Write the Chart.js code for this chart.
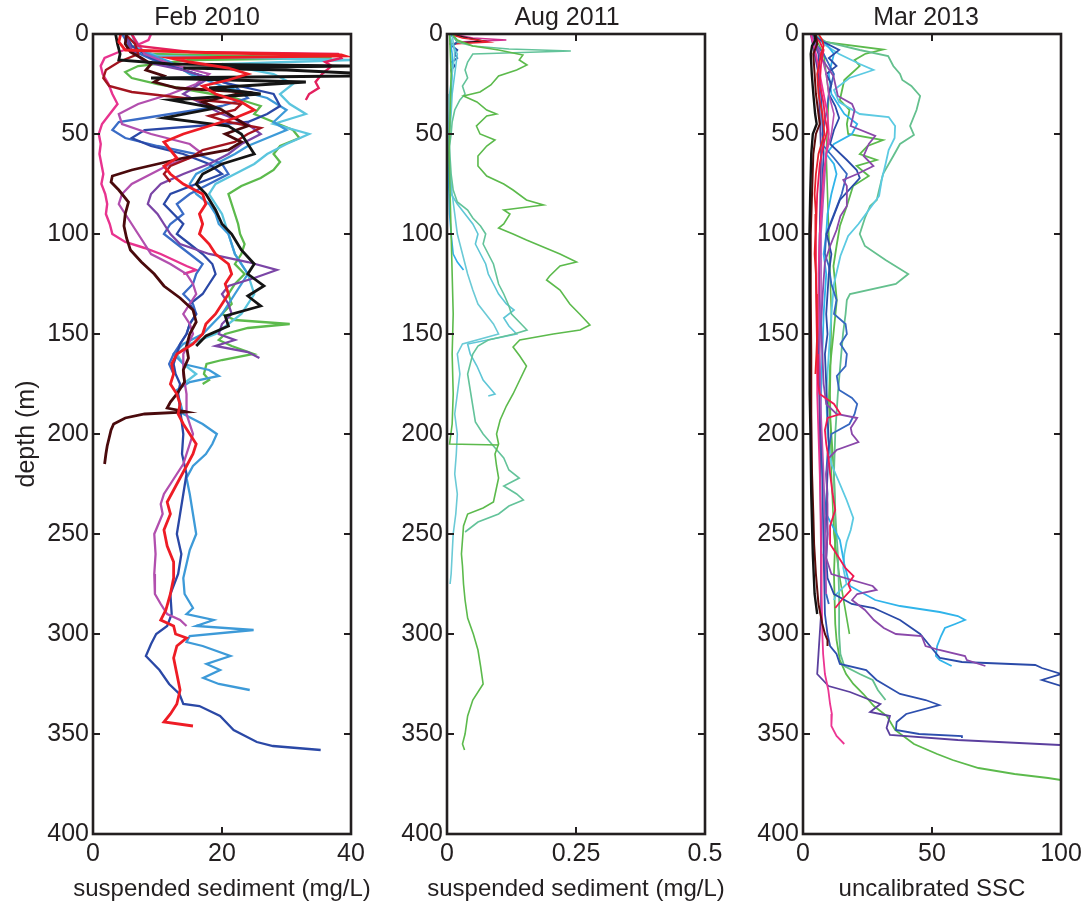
<!DOCTYPE html>
<html>
<head>
<meta charset="utf-8">
<script src="https://cdn.jsdelivr.net/npm/chart.js@4.4.1/dist/chart.umd.min.js"></script>
<style>
  body { margin: 0; background: #fff; }
  #wrap { position: relative; width: 1088px; height: 907px; overflow: hidden; }
  canvas { position: absolute; top: 0; }
</style>
</head>
<body>
<div id="wrap">
  <canvas id="feb" width="400" height="907" style="left:0px"></canvas>
  <canvas id="aug" width="380" height="907" style="left:360px"></canvas>
  <canvas id="mar" width="363" height="907" style="left:725px"></canvas>
</div>
<script>
// panel titles, axis labels, ticks
const panelTitles = ['Feb 2010', 'Aug 2011', 'Mar 2013'];
const xTitles = ['suspended sediment (mg/L)', 'suspended sediment (mg/L)', 'uncalibrated SSC'];
const yTitle = 'depth (m)';
const depthTicks = [0, 50, 100, 150, 200, 250, 300, 350, 400];
const febTicks = [0, 20, 40];
const augTicks = [0, 0.25, 0.5];
const marTicks = [0, 50, 100];

// ---- Feb 2010 profiles (depth m, sediment mg/L) ----
const febRedDepth = [0, 4, 8, 9.5, 10.5, 11, 12, 14, 17, 20, 23, 26, 30, 34, 38, 42, 46, 50, 54, 58, 62, 66, 70, 75, 80, 85, 90, 95, 100, 105, 110, 115, 120, 125, 130, 135, 140, 145, 150, 155, 160, 165, 170, 175, 180, 185, 190, 195, 200, 205, 210, 216, 222, 228, 234, 240, 248, 256, 264, 272, 280, 288, 293, 296, 300, 302, 306, 312, 320, 328, 335, 340, 344, 346];
const febRedSsc = [4.3, 4, 5, 20, 38.5, 39, 12, 15, 21, 24, 21, 17, 19, 23, 25, 22, 18, 14, 11, 12, 13, 11, 12, 14, 17, 17.5, 16.5, 17, 16.5, 18, 19, 21, 21.5, 20.5, 21, 20, 19, 17.5, 17, 15.5, 13, 12.2, 12.5, 12, 13, 13.5, 13.2, 14, 15, 16, 15.5, 14.5, 13.5, 12.5, 11.5, 12, 11, 11.5, 12.5, 12.5, 12, 11.3, 10.5, 12.5, 12.8, 14.5, 13, 12.5, 13, 13.5, 13, 12, 11, 15.5];

const febBlackDepth = [0, 5, 10, 13, 15, 16, 17, 18, 19.5, 21, 22, 24, 27, 30, 33, 37, 42, 46, 50, 55, 60, 65, 70, 75, 80, 88, 95, 100, 108, 115, 120, 126, 131, 136, 141, 146, 151, 156];
const febBlackSsc = [3.5, 3.8, 4.2, 4.0, 12, 40, 14, 30, 40, 40, 9, 33, 18, 26, 12, 19, 11, 21, 23, 24, 25, 20, 17, 16, 17.5, 19, 20, 21.5, 23, 25, 24, 26.5, 24, 26, 20.5, 21, 17.5, 16];

const febMaroonDepth = [0, 5, 9, 12, 15, 18, 21, 24, 27, 29, 31, 34, 38, 42, 46, 50, 54, 58, 62, 65, 68, 71, 74, 78, 84, 90, 96, 102, 108, 114, 120, 126, 132, 138, 144, 150, 156, 162, 168, 174, 180, 184, 187, 189, 190, 192, 195, 198, 202, 206, 210, 215];
const febMaroonSsc = [5.2, 5.0, 5.8, 7.5, 9.0, 8.2, 11.0, 9.5, 13.0, 23.5, 21.0, 17.0, 20.0, 22.0, 24.0, 20.5, 23.0, 21.0, 14.0, 10.0, 6.0, 3.0, 2.8, 4.0, 5.5, 5.0, 4.8, 5.2, 5.8, 7.5, 9.5, 11.0, 13.5, 15.5, 16.0, 15.0, 14.5, 14.8, 14.0, 14.2, 13.0, 12.0, 11.5, 14.5, 8.0, 5.0, 3.2, 2.8, 2.5, 2.2, 2.0, 1.8];

const febDarkRedDepth = [0, 5, 10, 14, 18, 22, 26, 29, 32, 35, 38, 41, 44, 47, 50, 54, 58, 62, 66, 70, 74];
const febDarkRedSsc = [5, 6.5, 7, 4, 2, 1.6, 2.5, 6, 14, 23, 22, 18, 21, 26, 24, 22, 17, 15, 12, 11, 12];

const febRoseDepth = [0, 6, 9, 10, 12, 14, 16, 20, 24, 27, 30, 33];
const febRoseSsc = [6, 7, 15, 38, 38.5, 36, 37, 35.5, 34.5, 35, 33.5, 33];

const febPurpleDepth = [0, 8, 14, 18, 22, 26, 30, 35, 40, 45, 50, 55, 60, 65, 70, 75, 80, 85, 90, 95, 100, 105, 110, 114, 118, 122, 126, 130, 135, 140, 145, 150, 153, 156, 159, 162];
const febPurpleSsc = [5, 6, 8, 14, 18, 16, 14, 17, 20, 24, 26, 23, 21, 18, 14, 10.5, 9, 8.5, 10, 11, 12, 13.5, 18, 24, 28.5, 25, 21, 20, 21, 21.5, 20, 19.5, 22, 19, 24, 25.8];

const febOrchidDepth = [0, 5, 10, 15, 20, 25, 30, 35, 40, 45, 50, 55, 60, 65, 70, 75, 80, 85, 90, 95, 100, 105, 110, 115, 120, 125, 130, 135, 140, 145, 150, 160, 170, 180, 190, 200, 205, 210, 215, 220, 225, 230, 235, 240, 250, 260, 270, 280, 285, 290, 293, 296];
const febOrchidSsc = [6, 7, 8, 12, 18, 16, 12, 7, 4, 4.5, 9, 15, 17, 12, 9, 6, 4.5, 4, 5, 6, 7, 8, 9, 12, 14.5, 15.5, 16, 15, 14, 15, 15.5, 14, 14, 14.5, 14.5, 15.5, 15, 14.5, 14, 13, 12, 11, 10.5, 10.8, 9.5, 9.7, 9.5, 9.6, 10.5, 11.5, 13.5, 14.5];

const febDarkBlueDepth = [0, 6, 12, 18, 24, 30, 36, 40, 44, 48, 52, 56, 60, 65, 70, 75, 80, 85, 90, 95, 100, 105, 110, 115, 120, 125, 130, 135, 140, 145, 150, 155, 160, 165, 170, 175, 180, 190, 200, 210, 220, 230, 240, 250, 260, 270, 280, 290, 296, 300, 305, 311, 318, 325, 330, 335, 336, 341, 348, 354, 356, 358];
const febDarkBlueSsc = [5, 6, 9, 14, 20, 28, 29, 27, 24, 8, 6, 9, 14, 18, 20, 16, 12, 11, 12.5, 14, 13, 15, 17, 18.5, 19, 18, 17, 15, 16, 15, 14.5, 13.5, 13, 12.5, 12.8, 13.5, 13.2, 13.6, 14, 13.8, 14.5, 14, 13.5, 13, 13.7, 13.2, 12, 12.2, 11.5, 9.8, 9, 8.2, 10.3, 11.8, 13.4, 14, 16.5, 19.7, 21.8, 25.4, 27.9, 35.3];

const febBlueDepth = [0, 8, 14, 20, 26, 32, 36, 40, 44, 48, 52, 56, 60, 65, 70, 75, 80, 85, 90, 95, 100, 105, 110, 115, 120, 125, 130, 135, 140, 145, 150, 155, 160, 165, 170];
const febBlueSsc = [4.5, 6, 10, 16, 22, 24, 20, 12, 4, 3, 5, 10, 16, 20, 21, 18, 15, 13, 14, 12, 11, 13, 15, 17, 16, 15.5, 14, 15.5, 16, 15, 14.5, 13.5, 12.5, 11.8, 12.5];

const febLightBlueDepth = [0, 8, 14, 20, 26, 32, 38, 44, 48, 52, 56, 60, 65, 70, 75, 80, 85, 90, 95, 100, 110, 120, 130, 140, 150, 155, 160, 165, 168, 171, 174, 178, 184, 190, 195, 200, 205, 210, 216, 222, 230, 240, 250, 258, 265, 272, 280, 287, 290, 293, 296, 298, 301, 304, 306, 311, 315, 318, 322, 325, 328];
const febLightBlueSsc = [6, 7, 12, 15, 20, 27, 30, 28, 30, 27, 24, 22, 19, 16, 15, 16, 18, 19, 19.5, 21, 22, 24, 22, 20, 17, 14, 12.5, 14, 18, 19.5, 15, 13, 13.5, 14, 17, 19.2, 18.5, 17.5, 15.5, 14.5, 15, 15.5, 16, 15, 14.5, 14, 14.2, 15.5, 14.5, 18.7, 16, 24.9, 15, 14.5, 17, 21.3, 17.6, 19.7, 17.1, 19.5, 24.3];

const febCyanDepth = [0, 6, 11, 13, 15, 20, 25, 30, 35, 40, 45, 50, 55, 60, 65, 70, 75, 80, 90, 100, 110, 120, 130, 140, 150, 155, 160, 165, 170, 175];
const febCyanSsc = [5, 6, 10, 40, 20, 28, 31, 29, 30.5, 33, 28, 33.5, 30, 27, 25, 22, 19, 18, 20, 21, 22, 24, 25, 23, 19, 15, 13, 14, 16, 14];

const febGreenDepth = [0, 6, 10, 12, 13, 16, 19, 22, 25, 28, 32, 36, 40, 44, 48, 52, 56, 60, 64, 68, 72, 76, 80, 85, 90, 95, 100, 105, 110, 115, 120, 125, 130, 135, 140, 143, 145, 147, 150, 153, 156, 160, 163, 165, 170, 173, 175];
const febGreenSsc = [5, 6, 9, 37, 15, 7, 5, 6, 10, 15, 22, 26, 25, 28, 31, 32, 29, 28, 29, 28, 26, 23, 21, 21.5, 22, 22.5, 22.8, 23.5, 23, 22, 23.5, 22, 21, 21.5, 20, 22, 30.5, 24, 20.5, 19.5, 21.5, 24.9, 20, 17.6, 17.2, 18, 17];

const febPinkDepth = [0, 3, 6, 9, 12, 16, 20, 25, 30, 35, 40, 45, 50, 55, 60, 65, 70, 75, 80, 85, 90, 95, 100, 104, 107, 110, 113, 116, 118, 120];
const febPinkSsc = [9.0, 8.6, 6.5, 4.0, 1.8, 1.2, 1.5, 2.4, 3.0, 3.8, 2.6, 1.4, 0.9, 1.2, 1.0, 1.3, 1.6, 1.3, 1.9, 2.2, 2.0, 2.6, 3.0, 5.0, 8.0, 10.5, 12.5, 14.5, 16.0, 14.0];

// ---- Aug 2011 profiles ----
const augGreenDepth = [0, 3, 6, 8, 10.5, 13, 15.5, 18, 21, 25.5, 29, 31, 34, 38, 40, 41, 46, 50, 53, 56, 61, 66, 71, 75, 78, 83, 85.5, 88, 90, 95, 97, 100, 103, 110, 114, 116, 121, 123, 128, 135, 140, 145.5, 148, 150, 153, 156.5, 161, 166, 173, 180, 186, 193, 200, 205, 210, 216, 222, 228, 234, 237, 240, 246, 253, 260, 266, 275, 283, 292, 300, 308, 316, 325, 333, 341, 350, 355, 358];
const augGreenSsc = [0.01, 0.02, 0.05, 0.10, 0.147, 0.14, 0.155, 0.135, 0.10, 0.085, 0.064, 0.032, 0.058, 0.077, 0.096, 0.077, 0.057, 0.064, 0.093, 0.077, 0.06, 0.06, 0.077, 0.11, 0.128, 0.154, 0.187, 0.11, 0.122, 0.11, 0.10, 0.128, 0.154, 0.219, 0.251, 0.219, 0.199, 0.193, 0.219, 0.238, 0.257, 0.277, 0.258, 0.206, 0.141, 0.128, 0.141, 0.154, 0.141, 0.128, 0.115, 0.103, 0.096, 0.10, 0.093, 0.096, 0.10, 0.095, 0.09, 0.07, 0.04, 0.032, 0.03, 0.028, 0.03, 0.032, 0.035, 0.04, 0.051, 0.06, 0.065, 0.07, 0.05, 0.04, 0.035, 0.03, 0.034];

const augGreen2Depth = [0, 20, 40, 60, 80, 100, 120, 140, 160, 180, 195, 205, 205.5];
const augGreen2Ssc = [0.005, 0.008, 0.006, 0.004, 0.006, 0.008, 0.01, 0.012, 0.01, 0.012, 0.01, 0.005, 0.10];

const augTealDepth = [0, 4, 6, 7.5, 8.5, 10, 14, 18, 22, 26, 30, 33, 38, 44, 50, 56, 62, 70, 78, 84, 88, 92, 96, 100, 105, 110, 115, 120, 125, 130, 136, 140, 144, 148, 150, 153, 156, 160, 165, 170, 178, 186, 194, 200, 206, 212, 218, 222, 226, 230, 233, 236, 240, 244, 249];
const augTealSsc = [0.01, 0.02, 0.05, 0.12, 0.24, 0.05, 0.04, 0.035, 0.04, 0.03, 0.035, 0.025, 0.015, 0.01, 0.008, 0.005, 0.006, 0.008, 0.012, 0.02, 0.04, 0.05, 0.065, 0.075, 0.07, 0.08, 0.09, 0.095, 0.1, 0.11, 0.12, 0.125, 0.14, 0.155, 0.13, 0.08, 0.06, 0.05, 0.045, 0.04, 0.045, 0.05, 0.055, 0.07, 0.09, 0.11, 0.12, 0.14, 0.11, 0.135, 0.148, 0.12, 0.10, 0.06, 0.035];

const augCyanDepth = [0, 5, 10, 20, 30, 40, 50, 60, 70, 80, 85, 90, 95, 100, 105, 110, 115, 120, 125, 130, 135, 138, 142, 146, 150, 155, 160, 166, 173, 180, 181];
const augCyanSsc = [0.005, 0.01, 0.02, 0.015, 0.01, 0.008, 0.005, 0.004, 0.006, 0.008, 0.02, 0.035, 0.05, 0.06, 0.055, 0.065, 0.075, 0.08, 0.09, 0.1, 0.115, 0.13, 0.11, 0.12, 0.135, 0.04, 0.045, 0.058, 0.07, 0.093, 0.08];

const augCyan2Depth = [0, 10, 20, 30, 40, 50, 60, 70, 80, 90, 100, 110, 120, 128, 135, 140, 145, 150, 155, 160, 170, 180, 190, 200, 210, 220, 230, 240, 250, 260, 270, 275];
const augCyan2Ssc = [0.01, 0.015, 0.01, 0.005, 0.004, 0.003, 0.004, 0.006, 0.01, 0.015, 0.02, 0.03, 0.04, 0.05, 0.06, 0.075, 0.09, 0.1, 0.03, 0.02, 0.025, 0.02, 0.015, 0.02, 0.018, 0.015, 0.02, 0.017, 0.012, 0.01, 0.008, 0.006];

const augSkyDepth = [0, 10, 20, 30, 40, 50, 60, 70, 80, 90, 100, 105, 110, 114, 118];
const augSkySsc = [0.005, 0.01, 0.01, 0.008, 0.005, 0.003, 0.002, 0.003, 0.004, 0.005, 0.008, 0.01, 0.012, 0.02, 0.032];

const augDarkBlueDepth = [0, 2, 4, 6, 8, 10, 12, 14, 16, 18, 20];
const augDarkBlueSsc = [0.005, 0.015, 0.02, 0.01, 0.02, 0.015, 0.02, 0.01, 0.015, 0.008, 0.01];
const augRedDepth = [0, 2, 3, 4, 5];
const augRedSsc = [0.005, 0.03, 0.06, 0.08, 0.01];
const augBlackDepth = [0, 2, 3.5, 5];
const augBlackSsc = [0.005, 0.04, 0.07, 0.005];
const augMagentaDepth = [0, 2, 3, 4];
const augMagentaSsc = [0.01, 0.05, 0.115, 0.02];

// ---- Mar 2013 profiles (uncalibrated) ----
const marBlackDepth = [0, 3, 6, 10, 20, 30, 40, 45, 50, 60, 80, 100, 120, 150, 180, 200, 230, 260, 280, 290];
const marBlackSsc = [4.5, 4.8, 3.5, 3.0, 3.4, 4.0, 4.7, 5.3, 3.8, 3.2, 2.8, 2.5, 2.5, 2.6, 2.7, 2.9, 3.2, 3.8, 4.5, 5.5];

const marMaroonDepth = [0, 5, 10, 20, 30, 40, 45, 50, 60, 80, 100, 130, 160, 190, 220, 240, 255, 270, 285, 295, 300, 303, 306];
const marMaroonSsc = [5, 5.5, 4, 4.5, 5, 6, 6.5, 5, 4, 3.5, 3, 3, 3.2, 3.2, 3.5, 4.0, 4.3, 5, 6, 7.5, 8.5, 9.5, 9.5];

const marRedDepth = [0, 3, 6, 10, 20, 30, 40, 50, 60, 70, 80, 90, 100, 110, 120, 130, 140, 150, 160, 170];
const marRedSsc = [6, 7.5, 8, 7, 5.5, 6, 7.5, 8.3, 6, 5, 4.5, 5, 4.8, 4.5, 5, 5.2, 5.4, 5.5, 5.2, 4.8];

const marRoseDepth = [0, 4, 8, 15, 25, 35, 42, 48, 55, 65, 80, 100, 120, 140, 160, 175, 180, 185, 190, 192, 198, 205, 213, 220, 230, 238, 246, 255, 262, 267, 271, 275, 278, 283, 287];
const marRoseSsc = [4, 6.5, 8, 7, 6.5, 8, 8.5, 9.5, 8, 6.5, 5.5, 5, 5, 5.2, 5.5, 5.8, 6.5, 12, 14.5, 9.5, 8.5, 9, 10, 10.5, 11.5, 12.5, 10.5, 10.5, 14, 16.4, 19.6, 17.5, 18.5, 15, 12.5];

const marPinkDepth = [0, 5, 10, 20, 30, 40, 50, 60, 70, 80, 90, 100, 120, 140, 160, 180, 200, 220, 240, 260, 280, 300, 310, 320, 328, 335, 340, 346, 351, 355];
const marPinkSsc = [3, 4, 5, 6.5, 8, 9.5, 10, 9, 8, 7.5, 7, 6.5, 6, 6, 5.5, 5.5, 6, 6.5, 6.8, 7, 7.2, 7.5, 7.8, 8.5, 9.8, 10.5, 11.2, 11, 13, 16];

const marPurpleDepth = [0, 5, 11, 21, 28, 31, 35, 38, 46, 51, 55, 61, 66, 70, 73, 76, 86, 91, 98, 106, 114, 123, 133, 145, 160, 175, 185, 190, 192, 197, 200, 204, 208, 212, 220, 235, 250, 262, 270, 276, 278, 280, 283, 288, 293, 297, 300, 301, 306, 308, 311, 313, 316];
const marPurpleSsc = [3, 5, 6.6, 11.8, 13, 13.5, 19, 20, 18.5, 28, 25.5, 23.5, 27.3, 21, 15.6, 17, 17, 14.5, 13, 10.5, 8.5, 8, 7.5, 7, 7.5, 8, 9, 13, 21, 18.5, 19, 21.5, 13, 10, 9, 9.5, 9.5, 9, 11, 27, 28.5, 21, 19, 24, 27.5, 31.3, 36, 46, 47.5, 52.8, 62.8, 63.5, 70.7];

const marOrchidDepth = [0, 10, 20, 30, 40, 50, 60, 80, 100, 130, 160, 190, 220, 250, 280];
const marOrchidSsc = [3, 7, 9, 10, 12, 11, 9, 8, 7, 7, 6.5, 7, 8, 8.5, 9];

const marIndigoDepth = [0, 20, 60, 100, 150, 200, 250, 290, 310, 320, 326, 329, 335, 339, 341, 347, 350.5, 353, 355.5];
const marIndigoSsc = [3, 6, 7, 6.5, 6, 6.5, 7, 7, 6, 5.5, 9.9, 18.2, 30, 26, 33.7, 32.4, 33.7, 60, 99.6];

const marDarkBlueDepth = [0, 4, 8, 12, 16, 20, 25, 30, 36, 42, 48, 55, 63, 68, 72, 83, 100, 110, 120, 130, 140, 150, 160, 175, 190, 205, 220, 235, 250, 262, 272, 280, 285, 287, 293, 300, 308, 312, 314, 315.5, 317, 320, 323, 326];
const marDarkBlueSsc = [3, 8, 14, 10, 13, 9, 11, 10, 12.5, 14, 12, 10.5, 17, 20.8, 22, 14.3, 9.2, 11, 10, 9.5, 9, 9.5, 8.5, 9, 9.5, 10, 9.5, 9, 9.5, 9, 9.5, 12, 18.9, 27.4, 37.6, 45.4, 50.5, 53.1, 61.6, 90, 92.6, 100, 92.6, 100];

const marDarkBlue2Depth = [0, 10, 30, 60, 100, 140, 180, 220, 260, 290, 300, 306, 310, 315, 318, 323, 330, 333, 335.5, 340, 344, 348, 350, 351, 352];
const marDarkBlue2Ssc = [3, 6, 7, 8, 6.5, 6, 6.5, 7.5, 8, 8.5, 9.5, 10.5, 13, 14.3, 24.5, 28.5, 37.6, 47.5, 52.8, 40, 36.3, 36, 45, 61.6, 61.6];

const marBlueDepth = [0, 5, 10, 20, 30, 40, 50, 56, 62, 70, 80, 90, 100, 110, 116, 125, 133, 140, 145, 150, 155, 160, 166, 171, 178, 182, 185, 190, 195, 200, 210, 220, 230, 240, 250, 260, 270, 280, 285];
const marBlueSsc = [3, 5, 8, 12, 10, 9, 7.5, 8, 12, 17, 15, 12, 9, 8.5, 10, 11, 13, 12, 16.5, 17, 14.5, 17, 16.5, 13.1, 14, 19, 21, 20, 18, 11, 9.5, 9, 9.5, 9, 8.5, 8, 8.5, 9, 10];

const marSkyDepth = [0, 5, 10, 20, 30, 40, 45, 50, 55, 60, 65, 70, 80, 90, 100, 110, 120, 140, 160, 180, 200, 220, 240, 253, 265, 276, 283, 286, 289, 291, 293, 295, 297, 301, 306, 311, 313, 316];
const marSkySsc = [4, 9, 12, 10, 11, 16, 21, 19, 12, 9, 12, 13, 11, 9.5, 9, 8, 9, 8, 7.5, 7, 6.5, 7.5, 9, 14.3, 16, 18.2, 28, 37.6, 53, 60, 62.8, 59, 55, 53.5, 52, 51.5, 53, 57.6];

const marCyanDepth = [0, 5, 10, 15, 18, 22, 28, 34, 40, 41.5, 46, 52, 58, 65, 73, 81, 88, 95, 101, 111, 125, 140, 160, 180, 200, 215, 225, 233, 242, 248, 254, 260, 267, 275, 280, 283];
const marCyanSsc = [4, 8, 14, 22, 27.3, 18, 12, 14, 22, 33.2, 35.7, 35.5, 33.2, 32, 30.5, 29.5, 25.5, 21.5, 17.5, 14.5, 12, 11, 10, 9, 9.5, 11, 14.3, 16.9, 19.5, 18.5, 16.9, 16, 15.6, 16.9, 13, 12];

const marTealDepth = [0, 4, 8, 11, 16, 20, 23, 26, 31, 38, 46, 50.5, 55, 61, 70, 78, 83, 86, 92, 100, 106, 113, 120, 125, 130, 133, 140, 150, 165, 180, 200, 220, 240, 260, 280, 300, 310, 316, 320, 323, 328, 333];
const marTealSsc = [4, 9, 22, 33, 35, 37.6, 38.5, 42, 45.4, 44, 41.5, 43, 37.6, 35, 31, 29.5, 28.6, 26, 24, 22, 24, 32, 40.8, 36, 18.2, 17, 16.5, 15.5, 14.5, 13.5, 12.5, 12, 12.5, 13.5, 14, 14, 14.5, 16, 22, 27, 29, 32];

const marGreenDepth = [0, 4, 7.8, 10, 13, 16, 23, 33, 38, 45, 50, 53, 56, 60, 63, 66, 71, 76, 86, 96, 106, 116, 133, 150, 166, 185, 200, 220, 240, 253, 270, 295, 303, 313, 320, 325, 330, 336, 341, 348, 355, 360, 363, 367, 370, 372, 373];
const marGreenSsc = [4, 8, 31, 24, 20, 22, 16, 14.3, 18, 17, 17.5, 31, 25, 22, 28.6, 20.8, 25.5, 19.4, 17, 14.3, 13, 11.8, 13.1, 11.8, 10.5, 10, 11, 12, 12.5, 12.5, 12, 12.5, 13, 14.3, 16.7, 19.5, 23.4, 27.5, 32.5, 35.7, 43, 52, 58, 68, 82, 95, 100];

const marGreen2Depth = [0, 10, 30, 60, 100, 140, 180, 220, 250, 270, 285, 300];
const marGreen2Ssc = [4, 8, 10, 9, 10, 11, 10.5, 11, 12, 14, 16, 18];

const INK = '#231f20';
const FONT = "'Liberation Sans', Arial, Helvetica, sans-serif";
const FONT_SIZE = 25;

function profile(depth, ssc, color, width) {
  return {
    data: depth.map((d, i) => ({x: ssc[i], y: d})),
    borderColor: color,
    borderWidth: width,
    showLine: true,
    pointRadius: 0,
    fill: false,
    tension: 0
  };
}

// box outline, inward ticks and the panel / axis titles
const frameTicks = {
  id: 'frameTicks',
  afterDatasetsDraw(chart, args, opts) {
    const ctx = chart.ctx;
    const a = chart.chartArea;
    const xs = chart.scales.x;
    const ys = chart.scales.y;
    ctx.save();
    ctx.strokeStyle = INK;
    ctx.lineWidth = 2;
    ctx.beginPath();
    xs.ticks.forEach(t => {
      const px = xs.getPixelForValue(t.value);
      ctx.moveTo(px, a.bottom); ctx.lineTo(px, a.bottom - 7);
      ctx.moveTo(px, a.top); ctx.lineTo(px, a.top + 7);
    });
    ys.ticks.forEach(t => {
      const py = ys.getPixelForValue(t.value);
      ctx.moveTo(a.left, py); ctx.lineTo(a.left + 7, py);
      ctx.moveTo(a.right, py); ctx.lineTo(a.right - 7, py);
    });
    ctx.stroke();
    ctx.lineWidth = 2.6;
    ctx.strokeRect(a.left, a.top, a.right - a.left, a.bottom - a.top);

    const mid = (a.left + a.right) / 2;
    ctx.fillStyle = INK;
    ctx.textAlign = 'center';
    ctx.textBaseline = 'middle';
    ctx.font = FONT_SIZE + 'px ' + FONT;
    ctx.fillText(panelTitles[opts.idx], mid + opts.titleShift, 18);
    ctx.font = '24px ' + FONT;
    ctx.fillText(xTitles[opts.idx], mid, 889);
    ctx.restore();
  }
};

function makePanel(id, idx, datasets, ticks, yWidth, padRight, titleShift) {
  new Chart(document.getElementById(id), {
    type: 'scatter',
    data: {datasets: datasets},
    plugins: [frameTicks],
    options: {
      responsive: false,
      animation: false,
      devicePixelRatio: 1,
      layout: {padding: {top: 34, right: padRight}},
      plugins: {
        legend: {display: false},
        tooltip: {enabled: false},
        title: {display: false},
        frameTicks: {idx: idx, titleShift: titleShift}
      },
      scales: {
        x: {
          type: 'linear',
          min: ticks[0],
          max: ticks[ticks.length - 1],
          grid: {display: false, drawTicks: false},
          border: {display: false},
          afterBuildTicks: s => { s.ticks = ticks.map(v => ({value: v})); },
          ticks: {color: INK, padding: 5, font: {family: FONT, size: FONT_SIZE}, maxRotation: 0, autoSkip: false,
                  callback: v => String(v)},
          afterFit: s => { s.height = 73; }
        },
        y: {
          type: 'linear',
          min: 0,
          max: 400,
          reverse: true,
          grid: {display: false, drawTicks: false},
          border: {display: false},
          afterBuildTicks: s => { s.ticks = depthTicks.map(v => ({value: v})); },
          ticks: {color: INK, padding: 4, font: {family: FONT, size: FONT_SIZE}, autoSkip: false},
          title: {display: idx === 0, text: yTitle, color: INK, font: {family: FONT, size: FONT_SIZE}, padding: {top: 12, bottom: 0}},
          afterFit: s => { s.width = yWidth; }
        }
      }
    }
  });
}

makePanel('feb', 0, [
  profile(febRedDepth, febRedSsc, '#ee1c25', 2.8),
  profile(febBlackDepth, febBlackSsc, '#141414', 2.8),
  profile(febMaroonDepth, febMaroonSsc, '#4a0a0c', 2.8),
  profile(febDarkRedDepth, febDarkRedSsc, '#a3141f', 2.4),
  profile(febRoseDepth, febRoseSsc, '#e3205e', 2.4),
  profile(febPurpleDepth, febPurpleSsc, '#7b45a6', 2.3),
  profile(febOrchidDepth, febOrchidSsc, '#b24fae', 2.3),
  profile(febDarkBlueDepth, febDarkBlueSsc, '#2a48a6', 2.3),
  profile(febBlueDepth, febBlueSsc, '#3a6cc6', 2.3),
  profile(febLightBlueDepth, febLightBlueSsc, '#3d9ad8', 2.3),
  profile(febCyanDepth, febCyanSsc, '#5bc5de', 2.3),
  profile(febGreenDepth, febGreenSsc, '#5cba4c', 2.3),
  profile(febPinkDepth, febPinkSsc, '#e8338f', 2.4)
], febTicks, 93, 49, -15);

makePanel('aug', 1, [
  profile(augGreenDepth, augGreenSsc, '#5cba4c', 1.6),
  profile(augGreen2Depth, augGreen2Ssc, '#5cba4c', 1.6),
  profile(augTealDepth, augTealSsc, '#63c39a', 1.6),
  profile(augCyanDepth, augCyanSsc, '#5ec6d6', 1.6),
  profile(augCyan2Depth, augCyan2Ssc, '#6bcad6', 1.6),
  profile(augSkyDepth, augSkySsc, '#30aee8', 1.6),
  profile(augDarkBlueDepth, augDarkBlueSsc, '#2a4aa8', 1.8),
  profile(augRedDepth, augRedSsc, '#e82030', 1.6),
  profile(augBlackDepth, augBlackSsc, '#141414', 1.6),
  profile(augMagentaDepth, augMagentaSsc, '#d03090', 1.6)
], augTicks, 87, 35, -9);

makePanel('mar', 2, [
  profile(marBlackDepth, marBlackSsc, '#141414', 2.4),
  profile(marMaroonDepth, marMaroonSsc, '#5c0d0d', 2.0),
  profile(marRedDepth, marRedSsc, '#e8202a', 1.8),
  profile(marRoseDepth, marRoseSsc, '#f01850', 1.8),
  profile(marPinkDepth, marPinkSsc, '#ec3592', 1.8),
  profile(marPurpleDepth, marPurpleSsc, '#8a48aa', 1.8),
  profile(marOrchidDepth, marOrchidSsc, '#b452b4', 1.6),
  profile(marIndigoDepth, marIndigoSsc, '#5b3f9e', 1.8),
  profile(marDarkBlueDepth, marDarkBlueSsc, '#2a4aa8', 1.8),
  profile(marDarkBlue2Depth, marDarkBlue2Ssc, '#2d4fae', 1.8),
  profile(marBlueDepth, marBlueSsc, '#3567c0', 1.8),
  profile(marSkyDepth, marSkySsc, '#30b4ea', 1.8),
  profile(marCyanDepth, marCyanSsc, '#5ccae2', 1.8),
  profile(marTealDepth, marTealSsc, '#64c08e', 1.8),
  profile(marGreenDepth, marGreenSsc, '#5cba4c', 1.8),
  profile(marGreen2Depth, marGreen2Ssc, '#5cba4c', 1.6)
], marTicks, 78, 27, -6);
</script>
</body>
</html>
